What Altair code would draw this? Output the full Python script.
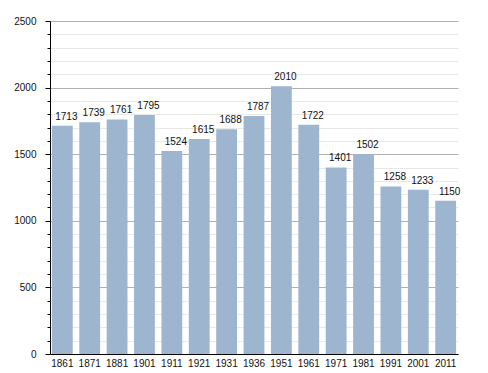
import altair as alt
import pandas as pd

years = ["1861", "1871", "1881", "1901", "1911", "1921", "1931", "1936",
         "1951", "1961", "1971", "1981", "1991", "2001", "2011"]
population = [1713, 1739, 1761, 1795, 1524, 1615, 1688, 1787,
              2010, 1722, 1401, 1502, 1258, 1233, 1150]

df = pd.DataFrame({"year": years, "pop": population})

FONT = "Liberation Sans"

x = alt.X("year:N", sort=years, title=None,
          scale=alt.Scale(paddingInner=0.24, paddingOuter=0.07),
          axis=alt.Axis(labelAngle=0, ticks=False, domainColor="black",
                        labelFont=FONT, labelFontSize=10, labelColor="#111",
                        labelPadding=4))
y = alt.Y("pop:Q", title=None,
          scale=alt.Scale(domain=[0, 2500], nice=False),
          axis=alt.Axis(values=list(range(0, 2501, 100)),
                        labelExpr="datum.value % 500 === 0 ? datum.label : ''",
                        format="d",
                        labelOverlap=False, labelFlush=False,
                        grid=True,
                        gridColor=alt.condition("datum.value % 500 === 0",
                                                alt.value("#b0b0b0"), alt.value("#e8e8e8")),
                        tickSize=alt.condition("datum.value % 500 === 0",
                                               alt.value(5), alt.value(3)),
                        tickColor="black", domainColor="black",
                        labelFont=FONT, labelFontSize=10, labelColor="#111",
                        labelPadding=9))

bars = alt.Chart(df).mark_bar(color="#9db5cf").encode(x=x, y=y)
text = alt.Chart(df).mark_text(baseline="alphabetic", dy=-6, dx=4, font=FONT,
                               fontSize=10, color="#111").encode(
    x=x, y=y, text="pop:Q")

chart = (bars + text).properties(
    width=408, height=333,
    autosize=alt.AutoSizeParams(type="none"),
    padding={"left": 42, "top": 13, "right": 22, "bottom": 19},
).configure_view(stroke=None)

chart.save("out.html", embed_options={"renderer": "svg", "actions": False})
